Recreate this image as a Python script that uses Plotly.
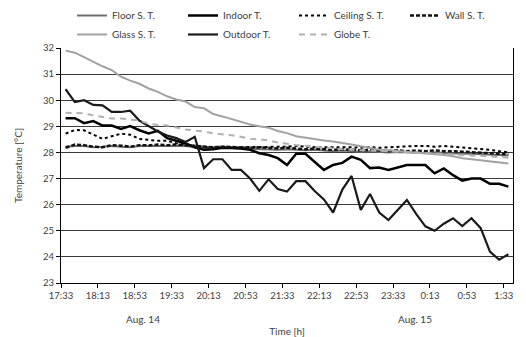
import plotly.graph_objects as go

# time axis: 10-minute readings starting 17:33 (x = minutes after 17:33, plotted mid-interval)
tick_labels = ["17:33", "18:13", "18:53", "19:33", "20:13", "20:53", "21:33",
               "22:13", "22:53", "23:33", "0:13", "0:53", "1:33"]
interval_min = 10
tick_step_min = 40

floor_st = [28.22, 28.25, 28.25, 28.2, 28.22, 28.25, 28.22, 28.2, 28.25, 28.25,
            28.27, 28.25, 28.27, 28.25, 28.2, 28.18, 28.15, 28.18, 28.17, 28.15,
            28.15, 28.12, 28.12, 28.1, 28.12, 28.1, 28.08, 28.1, 28.07, 28.05,
            28.07, 28.05, 28.03, 28.05, 28.02, 28.0, 28.02, 28.0, 28.0, 27.98,
            28.0, 27.98, 27.97, 27.95, 27.95, 27.93, 27.92, 27.9, 27.88]
indoor_t = [29.31, 29.31, 29.12, 29.2, 29.03, 29.03, 28.9, 29.01, 28.85, 28.73,
            28.83, 28.55, 28.45, 28.35, 28.2, 28.1, 28.12, 28.18, 28.17, 28.15,
            28.1, 27.97, 27.9, 27.78, 27.52, 27.95, 27.95, 27.64, 27.33, 27.52,
            27.6, 27.84, 27.72, 27.4, 27.42, 27.33, 27.43, 27.52, 27.52, 27.52,
            27.2, 27.39, 27.13, 26.92, 27.0, 27.0, 26.8, 26.8, 26.69]
ceiling_st = [28.72, 28.86, 28.85, 28.68, 28.52, 28.62, 28.72, 28.68, 28.52, 28.48,
              28.45, 28.45, 28.35, 28.3, 28.25, 28.22, 28.2, 28.22, 28.2, 28.2,
              28.22, 28.2, 28.22, 28.2, 28.22, 28.25, 28.22, 28.2, 28.2, 28.2,
              28.22, 28.2, 28.18, 28.2, 28.18, 28.2, 28.2, 28.22, 28.25, 28.25,
              28.22, 28.25, 28.22, 28.2, 28.15, 28.12, 28.1, 28.05, 28.0]
wall_st = [28.18, 28.3, 28.28, 28.22, 28.2, 28.28, 28.26, 28.22, 28.28, 28.27,
           28.3, 28.28, 28.3, 28.27, 28.25, 28.22, 28.2, 28.22, 28.2, 28.2,
           28.18, 28.2, 28.17, 28.15, 28.18, 28.15, 28.12, 28.15, 28.12, 28.1,
           28.12, 28.1, 28.08, 28.1, 28.08, 28.05, 28.08, 28.05, 28.07, 28.05,
           28.08, 28.05, 28.05, 28.03, 28.02, 28.0, 27.98, 27.95, 27.93]
glass_st = [31.9, 31.82, 31.65, 31.47, 31.3, 31.15, 30.9, 30.75, 30.63, 30.45,
            30.32, 30.15, 30.03, 29.95, 29.74, 29.69, 29.47, 29.38, 29.27, 29.17,
            29.07, 29.0, 28.95, 28.82, 28.74, 28.62, 28.56, 28.5, 28.46, 28.42,
            28.37, 28.3, 28.24, 28.18, 28.1, 28.08, 28.05, 28.02, 28.0, 27.97,
            27.93, 27.9, 27.85, 27.78, 27.74, 27.7, 27.65, 27.62, 27.58]
outdoor_t = [30.42, 29.93, 30.0, 29.82, 29.8, 29.55, 29.55, 29.6, 29.22, 29.0,
             28.8, 28.65, 28.55, 28.4, 28.6, 27.4, 27.74, 27.74, 27.33, 27.33,
             27.0, 26.53, 26.97, 26.6, 26.5, 26.9, 26.9, 26.52, 26.2, 25.7,
             26.58, 27.1, 25.8, 26.41, 25.7, 25.41, 25.8, 26.18, 25.65, 25.17,
             25.0, 25.27, 25.48, 25.18, 25.48, 25.1, 24.2, 23.89, 24.1]
globe_t = [29.52, 29.5, 29.5, 29.42, 29.37, 29.3, 29.3, 29.26, 29.22, 29.1,
           29.05, 29.03, 28.95, 28.88, 28.84, 28.8, 28.73, 28.7, 28.66, 28.6,
           28.52, 28.5, 28.46, 28.38, 28.32, 28.28, 28.26, 28.22, 28.18, 28.15,
           28.12, 28.1, 28.08, 28.08, 28.06, 28.05, 28.03, 28.0, 27.98, 27.96,
           27.95, 27.93, 27.92, 27.9, 27.88, 27.87, 27.85, 27.82, 27.8]

n = len(floor_st)
x = [interval_min * i + interval_min / 2 for i in range(n)]
tickvals = [tick_step_min * k for k in range(len(tick_labels))]

FONT = "Lato"
series = [
    ("Floor S. T.", floor_st, dict(color="#6e6e6e", width=2)),
    ("Indoor T.", indoor_t, dict(color="#000000", width=2.5)),
    ("Ceiling S. T.", ceiling_st, dict(color="#000000", width=2, dash="dot")),
    ("Wall S. T.", wall_st, dict(color="#111111", width=2.5, dash="4px,2px")),
    ("Glass S. T.", glass_st, dict(color="#a2a2a2", width=2)),
    ("Outdoor T.", outdoor_t, dict(color="#1a1a1a", width=2.2)),
    ("Globe T.", globe_t, dict(color="#b0b0b0", width=2, dash="6px,5px")),
]

fig = go.Figure()
for name, vals, line in series:
    fig.add_trace(go.Scatter(x=x, y=vals, mode="lines", name=name, line=line))

fig.update_layout(
    width=526, height=337,
    margin=dict(l=61, r=13, t=48, b=54, autoexpand=False),
    paper_bgcolor="white", plot_bgcolor="white",
    font=dict(family=FONT, size=10, color="#404040"),
    legend=dict(
        orientation="h", xref="container", yref="container",
        x=72 / 526, xanchor="left", y=1 - 1 / 337, yanchor="top",
        entrywidth=66, entrywidthmode="pixels",
        font=dict(family=FONT, size=10, color="#404040"),
        bgcolor="rgba(0,0,0,0)", itemwidth=30,
    ),
    showlegend=True,
)
fig.update_xaxes(
    range=[0, interval_min * n], tickvals=tickvals, ticktext=tick_labels,
    showgrid=False, zeroline=False, showline=True, linecolor="#000000", linewidth=1,
    ticks="outside", ticklen=4, tickcolor="#000000",
    tickfont=dict(family=FONT, size=9.5, color="#404040"),
    title=dict(text="Time [h]", standoff=32, font=dict(family=FONT, size=10, color="#404040")),
)
fig.update_yaxes(
    range=[23, 32], dtick=1, tick0=23,
    showgrid=True, gridcolor="#3a3a3a", gridwidth=1, zeroline=False,
    showline=True, linecolor="#000000", linewidth=1, mirror=True,
    ticks="outside", ticklen=4, tickcolor="#000000",
    tickfont=dict(family=FONT, size=9.5, color="#404040"),
    title=dict(text="Temperature [°C]", standoff=18, font=dict(family=FONT, size=10, color="#404040")),
)
for label, xpos in (("Aug. 14", 143), ("Aug. 15", 415)):
    fig.add_annotation(text=label, xref="paper", yref="paper",
                       x=(xpos - 61) / 452, y=-0.155, showarrow=False,
                       xanchor="center", yanchor="middle",
                       font=dict(family=FONT, size=10, color="#404040"))

fig.write_html("out.html")
